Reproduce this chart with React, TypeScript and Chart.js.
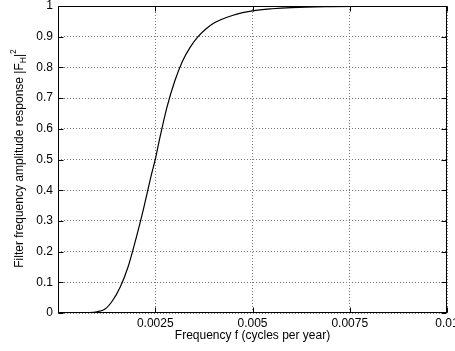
import React, { useEffect, useRef } from "react";
import { Chart, registerables } from "chart.js";

Chart.register(...registerables);

const frequency = [0, 0.0005, 0.0008, 0.001, 0.0012, 0.0014, 0.0016, 0.0018, 0.002, 0.0022, 0.0024, 0.0025, 0.0026, 0.0028, 0.003, 0.0032, 0.0034, 0.0036, 0.0038, 0.004, 0.0045, 0.005, 0.0055, 0.006, 0.007, 0.008, 0.009, 0.01];
const response = [0, 0.0001, 0.001, 0.004, 0.012, 0.04, 0.085, 0.15, 0.24, 0.34, 0.45, 0.5, 0.56, 0.67, 0.755, 0.82, 0.866, 0.9, 0.925, 0.944, 0.97, 0.984, 0.991, 0.995, 0.998, 0.999, 1.0, 1.0];
const xTicks = [0.0025, 0.005, 0.0075, 0.01];
const xTickLabels = ["0.0025", "0.005", "0.0075", "0.01"];
const yTicks = [0, 0.1, 0.2, 0.3, 0.4, 0.5, 0.6, 0.7, 0.8, 0.9, 1];
const yTickLabels = ["0", "0.1", "0.2", "0.3", "0.4", "0.5", "0.6", "0.7", "0.8", "0.9", "1"];
const xTitle = "Frequency f (cycles per year)";
const yTitleMain = "Filter frequency amplitude response |F";
const yTitleSub = "H";
const yTitleBar = "|";
const yTitleSup = "2";

const FONT = '"Liberation Sans", Arial, Helvetica, sans-serif';

const framePlugin = {
  id: "frame",
  afterDraw(chart: any) {
    const { ctx, chartArea } = chart;
    const xs = chart.scales.x;
    const ys = chart.scales.y;
    const L = Math.round(chartArea.left) + 0.5;
    const R = Math.round(chartArea.right) - 0.5;
    const T = Math.round(chartArea.top) + 0.5;
    const B = Math.round(chartArea.bottom) - 0.5;
    const tl = 5;
    ctx.save();
    ctx.strokeStyle = "#000";
    ctx.lineWidth = 1;
    ctx.setLineDash([]);
    ctx.strokeRect(L, T, R - L, B - T);
    ctx.beginPath();
    xTicks.forEach((v) => {
      const px = Math.round(xs.getPixelForValue(v)) + 0.5;
      ctx.moveTo(px, B);
      ctx.lineTo(px, B - tl);
      ctx.moveTo(px, T);
      ctx.lineTo(px, T + tl);
    });
    yTicks.forEach((v) => {
      const py = Math.round(ys.getPixelForValue(v)) + 0.5;
      ctx.moveTo(L, py);
      ctx.lineTo(L + tl, py);
      ctx.moveTo(R, py);
      ctx.lineTo(R - tl, py);
    });
    ctx.stroke();

    // y axis title with subscript / superscript
    const cy = (chartArea.top + chartArea.bottom) / 2 - 1;
    const mainFont = `12px ${FONT}`;
    const smallFont = `8.5px ${FONT}`;
    ctx.font = mainFont;
    const wMain = ctx.measureText(yTitleMain).width;
    const wBar = ctx.measureText(yTitleBar).width;
    ctx.font = smallFont;
    const wSub = ctx.measureText(yTitleSub).width;
    const wSup = ctx.measureText(yTitleSup).width;
    const total = wMain + wSub + wBar + wSup;
    ctx.translate(19.5, cy);
    ctx.rotate(-Math.PI / 2);
    ctx.fillStyle = "#000";
    ctx.textBaseline = "middle";
    ctx.textAlign = "left";
    let x = -total / 2;
    ctx.font = mainFont;
    ctx.fillText(yTitleMain, x, 0);
    x += wMain;
    ctx.font = smallFont;
    ctx.fillText(yTitleSub, x, 4);
    x += wSub;
    ctx.font = mainFont;
    ctx.fillText(yTitleBar, x, 0);
    x += wBar;
    ctx.font = smallFont;
    ctx.fillText(yTitleSup, x, -6);
    ctx.restore();
  },
};

export default function App() {
  const ref = useRef<HTMLCanvasElement>(null);
  useEffect(() => {
    if (!ref.current) return;
    const chart = new Chart(ref.current, {
      type: "line",
      data: {
        datasets: [
          {
            data: frequency.map((f, i) => ({ x: f, y: response[i] })),
            borderColor: "#000",
            borderWidth: 1.2,
            pointRadius: 0,
            cubicInterpolationMode: "monotone",
            fill: false,
          },
        ],
      },
      options: {
        animation: false,
        responsive: false,
        maintainAspectRatio: false,
        layout: { padding: { top: 6, right: 8, left: 0, bottom: 0 } },
        plugins: { legend: { display: false }, tooltip: { enabled: false } },
        scales: {
          x: {
            type: "linear",
            min: 0,
            max: 0.01,
            afterBuildTicks: (s: any) => {
              s.ticks = xTicks.map((v) => ({ value: v }));
            },
            afterFit: (s: any) => {
              s.height = 38;
              s.paddingLeft = 0;
              s.paddingRight = 0;
            },
            ticks: {
              autoSkip: false,
              maxRotation: 0,
              padding: 3,
              color: "#000",
              font: { family: FONT, size: 12 },
              callback: (v: any) => {
                const i = xTicks.findIndex((t) => Math.abs(t - v) < 1e-9);
                return i >= 0 ? xTickLabels[i] : "";
              },
            },
            grid: {
              drawTicks: false,
              color: "#7a7a7a",
              lineWidth: 1,
            },
            border: { display: false, dash: [1, 2] },
            title: {
              display: true,
              text: xTitle,
              color: "#000",
              font: { family: FONT, size: 12 },
              padding: { top: 0, bottom: 8 },
            },
          },
          y: {
            type: "linear",
            min: 0,
            max: 1,
            afterBuildTicks: (s: any) => {
              s.ticks = yTicks.map((v) => ({ value: v }));
            },
            afterFit: (s: any) => {
              s.width = 58;
              s.paddingTop = 0;
              s.paddingBottom = 0;
            },
            ticks: {
              autoSkip: false,
              padding: 5,
              color: "#000",
              font: { family: FONT, size: 12 },
              callback: (v: any) => {
                const i = yTicks.findIndex((t) => Math.abs(t - v) < 1e-9);
                return i >= 0 ? yTickLabels[i] : "";
              },
            },
            grid: {
              drawTicks: false,
              color: "#7a7a7a",
              lineWidth: 1,
            },
            border: { display: false, dash: [1, 2] },
          },
        },
      },
      plugins: [framePlugin],
    } as any);
    return () => chart.destroy();
  }, []);
  return (
    <div style={{ position: "fixed", left: 0, top: 0, width: 455, height: 351, background: "#fff" }}>
      <canvas ref={ref} width={455} height={351} style={{ display: "block", width: 455, height: 351 }} />
    </div>
  );
}
